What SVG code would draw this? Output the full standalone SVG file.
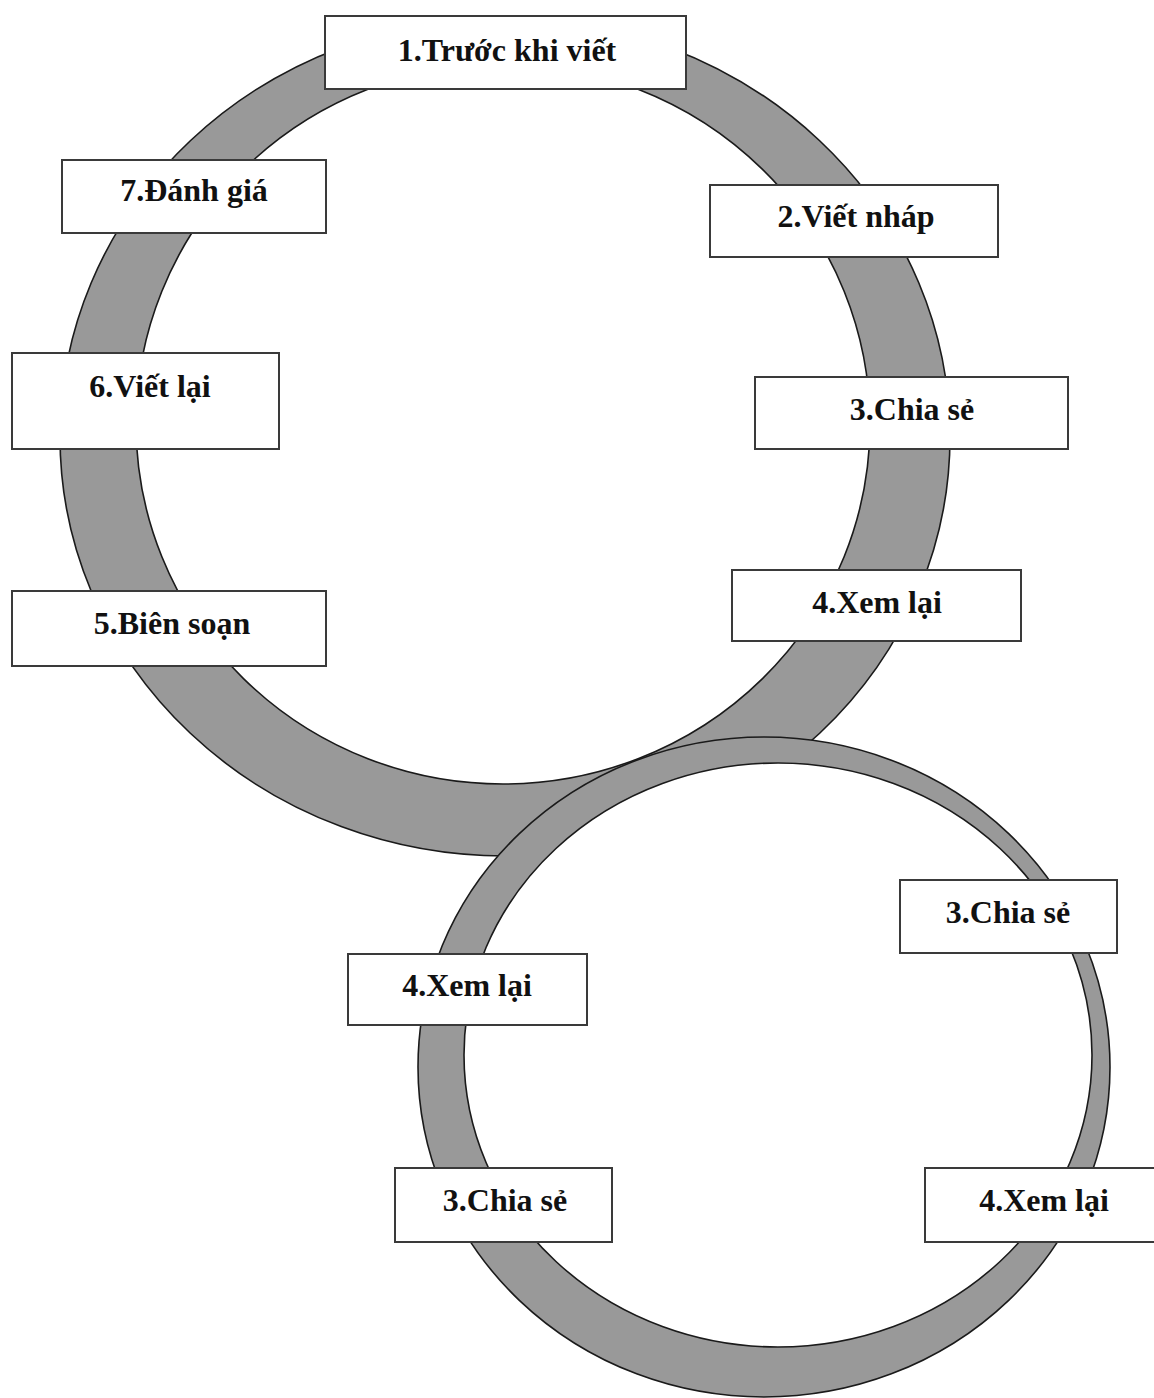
<svg xmlns="http://www.w3.org/2000/svg" width="1154" height="1398" viewBox="0 0 1154 1398">
<style>
.ring{fill:#999999;stroke:#1a1a1a;stroke-width:1.6}
.hole{fill:#ffffff;stroke:#1a1a1a;stroke-width:1.6}
.box{fill:#ffffff;stroke:#3a3a3a;stroke-width:2}
.lbl{font-family:"Liberation Serif","Times New Roman",serif;font-weight:bold;font-size:32px;fill:#111111;text-anchor:middle}
</style>
<rect x="0" y="0" width="1154" height="1398" fill="#ffffff"/>
<g id="rings">
<g id="ring-main">
<ellipse class="ring" cx="505" cy="437" rx="445" ry="419"/>
<ellipse class="hole" cx="503" cy="424" rx="367" ry="360"/>
</g>
<g id="ring-sub">
<ellipse class="ring" cx="764" cy="1067" rx="346" ry="330"/>
<ellipse class="hole" cx="778" cy="1055" rx="314" ry="292"/>
</g>
</g>
<g id="connectors"></g>
<g id="n1"><rect class="box" x="325" y="16" width="361" height="73"/><text class="lbl" x="507" y="61">1.Trước khi viết</text></g>
<g id="n7"><rect class="box" x="62" y="160" width="264" height="73"/><text class="lbl" x="194" y="201">7.Đánh giá</text></g>
<g id="n2"><rect class="box" x="710" y="185" width="288" height="72"/><text class="lbl" x="856" y="227">2.Viết nháp</text></g>
<g id="n6"><rect class="box" x="12" y="353" width="267" height="96"/><text class="lbl" x="150" y="397">6.Viết lại</text></g>
<g id="n3"><rect class="box" x="755" y="377" width="313" height="72"/><text class="lbl" x="912" y="420">3.Chia sẻ</text></g>
<g id="n4"><rect class="box" x="732" y="570" width="289" height="71"/><text class="lbl" x="877" y="613">4.Xem lại</text></g>
<g id="n5"><rect class="box" x="12" y="591" width="314" height="75"/><text class="lbl" x="172" y="634">5.Biên soạn</text></g>
<g id="n3b"><rect class="box" x="900" y="880" width="217" height="73"/><text class="lbl" x="1008" y="923">3.Chia sẻ</text></g>
<g id="n4b"><rect class="box" x="348" y="954" width="239" height="71"/><text class="lbl" x="467" y="996">4.Xem lại</text></g>
<g id="n3c"><rect class="box" x="395" y="1168" width="217" height="74"/><text class="lbl" x="505" y="1211">3.Chia sẻ</text></g>
<g id="n4c"><rect class="box" x="925" y="1168" width="240" height="74"/><text class="lbl" x="1044" y="1211">4.Xem lại</text></g>
</svg>
